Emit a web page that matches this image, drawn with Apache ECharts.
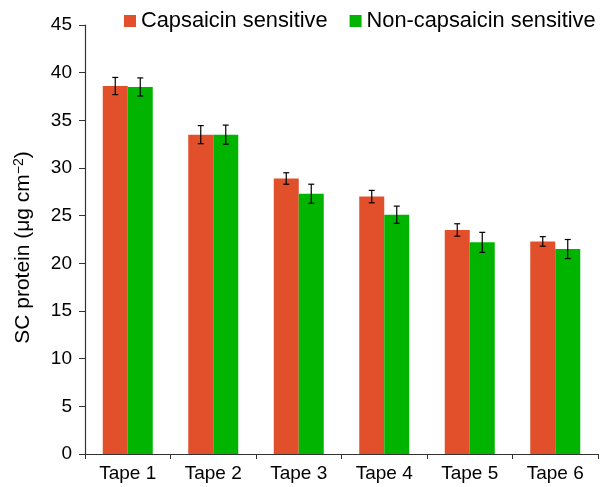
<!DOCTYPE html>
<html>
<head>
<meta charset="utf-8">
<script src="https://cdn.jsdelivr.net/npm/echarts@6/dist/echarts.min.js"></script>
<style>
  html, body { margin: 0; padding: 0; background: #fff; }
  #chart { width: 600px; height: 487px; }
</style>
</head>
<body>
<div id="chart"></div>
<script>
'use strict';

const tapes = ['Tape 1', 'Tape 2', 'Tape 3', 'Tape 4', 'Tape 5', 'Tape 6'];
const capsaicin = [38.6, 33.5, 28.9, 27.0, 23.5, 22.3];
const capsaicinErr = [0.9, 0.95, 0.6, 0.65, 0.65, 0.5];
const nonCapsaicin = [38.5, 33.5, 27.3, 25.1, 22.2, 21.5];
const nonCapsaicinErr = [0.95, 1.0, 1.0, 0.9, 1.05, 1.0];

const redColor = '#E1502B';
const greenColor = '#00B400';
const barW = 25;

(function () {
  const chartEl = document.querySelector('#chart');
  const chart = echarts.init(chartEl, null, { renderer: 'canvas' });

  // error bar series, shifted half a bar left or right
  function errorSeries(values, errs, shift) {
    const rows = values.map(function (v, i) { return [i, v - errs[i], v + errs[i]]; });
    return {
      type: 'custom',
      silent: true,
      z: 10,
      data: rows,
      renderItem: function (params, api) {
        const lo = api.coord([api.value(0), api.value(1)]);
        const hi = api.coord([api.value(0), api.value(2)]);
        const x = lo[0] + shift;
        const cap = 3;
        const style = { stroke: '#000', lineWidth: 1.2 };
        return {
          type: 'group',
          children: [
            { type: 'line', shape: { x1: x, y1: lo[1], x2: x, y2: hi[1] }, style: style },
            { type: 'line', shape: { x1: x - cap, y1: lo[1], x2: x + cap, y2: lo[1] }, style: style },
            { type: 'line', shape: { x1: x - cap, y1: hi[1], x2: x + cap, y2: hi[1] }, style: style }
          ]
        };
      }
    };
  }

  const option = {
    animation: false,
    textStyle: { fontFamily: 'Liberation Sans, Arial, sans-serif' },
    legend: {
      top: 10,
      left: 124,
      width: 476,
      padding: 0,
      itemWidth: 12,
      itemHeight: 12,
      itemGap: 22,
      icon: 'rect',
      textStyle: { fontSize: 21.8, color: '#000' },
      data: ['Capsaicin sensitive', 'Non-capsaicin sensitive']
    },
    grid: { left: 85, right: 2, top: 25, bottom: 33 },
    xAxis: {
      type: 'category',
      data: tapes,
      axisLine: { lineStyle: { color: '#333', width: 1.2 } },
      axisTick: { show: true, length: 5, lineStyle: { color: '#333' } },
      axisLabel: { fontSize: 19, color: '#000', margin: 10 }
    },
    yAxis: {
      type: 'value',
      min: 0,
      max: 45,
      interval: 5,
      splitLine: { show: false },
      axisLine: { show: true, lineStyle: { color: '#333', width: 1.2 } },
      axisTick: { show: true, length: 6, lineStyle: { color: '#333' } },
      axisLabel: { fontSize: 19, color: '#000', margin: 13 },
      name: '{a|SC protein (μg cm}{s|−2}{a|)}',
      nameLocation: 'middle',
      nameGap: 50,
      nameRotate: 90,
      nameTextStyle: {
        padding: [0, 16, 0, 0],
        rich: {
          a: { fontSize: 21, color: '#000', fontFamily: 'Liberation Sans' },
          s: { fontSize: 14, color: '#000', fontFamily: 'Liberation Sans', verticalAlign: 'top', padding: [0, 0, 9, 0] }
        }
      }
    },
    series: [
      {
        name: 'Capsaicin sensitive',
        type: 'bar',
        data: capsaicin,
        barWidth: barW,
        barGap: '0%',
        itemStyle: { color: redColor }
      },
      {
        name: 'Non-capsaicin sensitive',
        type: 'bar',
        data: nonCapsaicin,
        barWidth: barW,
        barGap: '0%',
        itemStyle: { color: greenColor }
      },
      errorSeries(capsaicin, capsaicinErr, -barW / 2),
      errorSeries(nonCapsaicin, nonCapsaicinErr, barW / 2)
    ]
  };

  chart.setOption(option);
  window.addEventListener('resize', chart.resize);
})();
</script>
</body>
</html>
